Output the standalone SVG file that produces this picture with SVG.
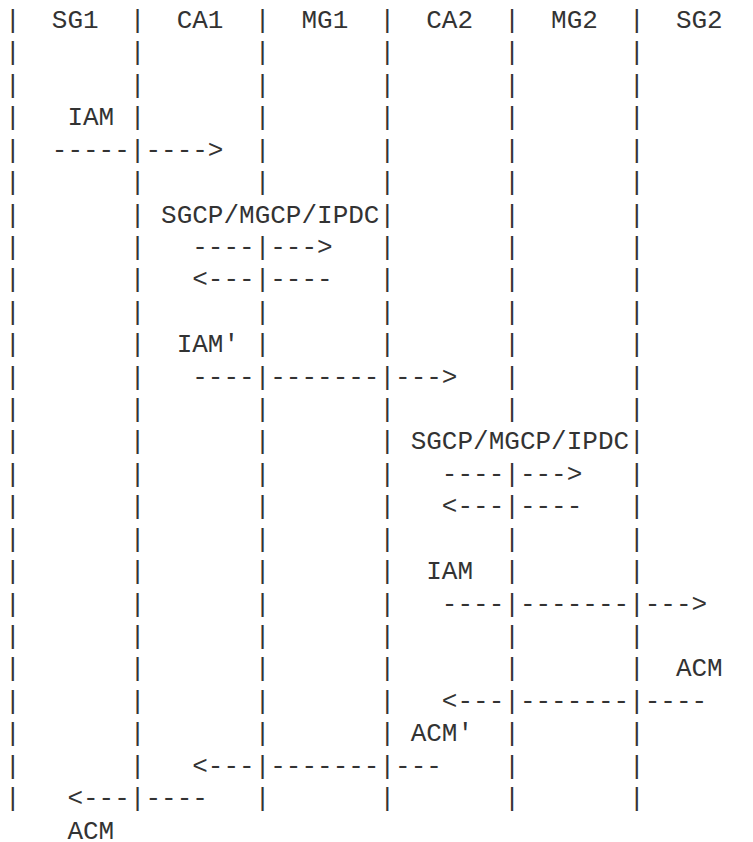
<svg xmlns="http://www.w3.org/2000/svg" width="753" height="842" viewBox="0 0 753 842">
<style>
text{font-family:"Liberation Mono","DejaVu Sans Mono",monospace;font-size:26px;fill:#333;white-space:pre}
</style>
<rect width="753" height="842" fill="#fff"/>
<g id="header">
<text x="5" y="28" xml:space="preserve">|  SG1  |  CA1  |  MG1  |  CA2  |  MG2  |  SG2</text>
</g>
<g id="connectors">
<text x="5" y="60.42" xml:space="preserve">|       |       |       |       |       |</text>
<text x="5" y="92.84" xml:space="preserve">|       |       |       |       |       |</text>
<text x="5" y="125.26" xml:space="preserve">|   IAM |       |       |       |       |</text>
<text x="5" y="157.68" xml:space="preserve">|  -----|---->  |       |       |       |</text>
<text x="5" y="190.1" xml:space="preserve">|       |       |       |       |       |</text>
<text x="5" y="222.52" xml:space="preserve">|       | SGCP/MGCP/IPDC|       |       |</text>
<text x="5" y="254.94" xml:space="preserve">|       |   ----|--->   |       |       |</text>
<text x="5" y="287.36" xml:space="preserve">|       |   &lt;---|----   |       |       |</text>
<text x="5" y="319.78" xml:space="preserve">|       |       |       |       |       |</text>
<text x="5" y="352.2" xml:space="preserve">|       |  IAM' |       |       |       |</text>
<text x="5" y="384.62" xml:space="preserve">|       |   ----|-------|--->   |       |</text>
<text x="5" y="417.04" xml:space="preserve">|       |       |       |       |       |</text>
<text x="5" y="449.46" xml:space="preserve">|       |       |       | SGCP/MGCP/IPDC|</text>
<text x="5" y="481.88" xml:space="preserve">|       |       |       |   ----|--->   |</text>
<text x="5" y="514.3" xml:space="preserve">|       |       |       |   &lt;---|----   |</text>
<text x="5" y="546.72" xml:space="preserve">|       |       |       |       |       |</text>
<text x="5" y="579.14" xml:space="preserve">|       |       |       |  IAM  |       |</text>
<text x="5" y="611.56" xml:space="preserve">|       |       |       |   ----|-------|---></text>
<text x="5" y="643.98" xml:space="preserve">|       |       |       |       |       |</text>
<text x="5" y="676.4" xml:space="preserve">|       |       |       |       |       |  ACM</text>
<text x="5" y="708.82" xml:space="preserve">|       |       |       |   &lt;---|-------|----</text>
<text x="5" y="741.24" xml:space="preserve">|       |       |       | ACM'  |       |</text>
<text x="5" y="773.66" xml:space="preserve">|       |   &lt;---|-------|---    |       |</text>
<text x="5" y="806.08" xml:space="preserve">|   &lt;---|----   |       |       |       |</text>
<text x="5" y="838.5" xml:space="preserve">    ACM</text>
</g>
</svg>
